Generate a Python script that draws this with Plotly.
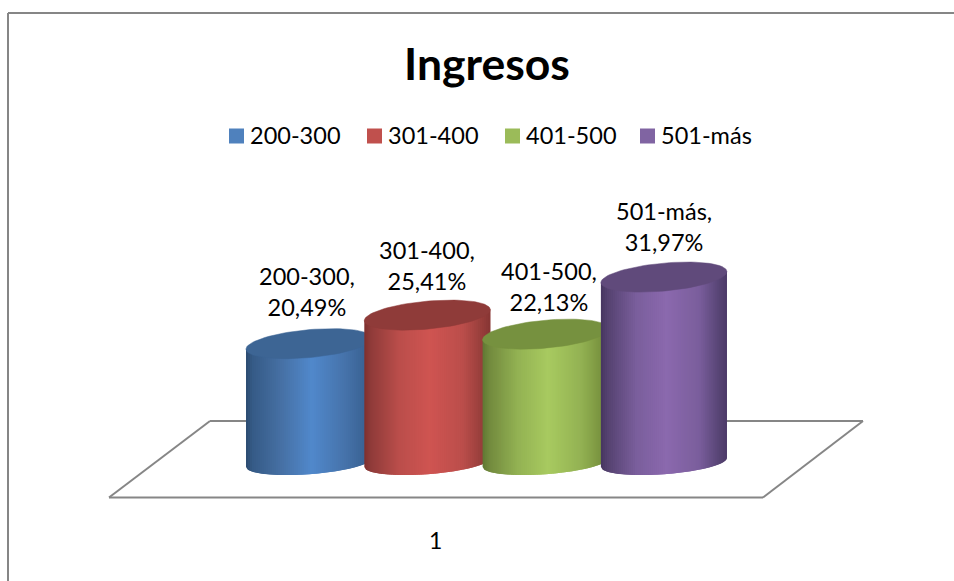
import numpy as np
import plotly.graph_objects as go

# Income brackets and their share of respondents (%)
categories = ["200-300", "301-400", "401-500", "501-más"]
shares = [20.49, 25.41, 22.13, 31.97]
axis_tick = "1"
chart_title = "Ingresos"

# Shading across each cylinder, from its left edge to its right edge
gradient_pos = [0.0, 0.05, 0.28, 0.52, 0.78, 0.94, 1.0]
body_shades = [
    ["#2b4a6f", "#355a86", "#4670a4", "#5088cb", "#4673ab", "#3a6394", "#34577f"],
    ["#7d2f2d", "#8f3b39", "#bb4e4b", "#cf5451", "#bb4e4b", "#953d3a", "#863533"],
    ["#5f7733", "#71893d", "#93b253", "#a8ca60", "#93b253", "#79933f", "#6a8239"],
    ["#463560", "#54416f", "#7a5e9c", "#8b69ae", "#7a5e9c", "#574474", "#4d3a68"],
]
cap_shades = ["#3d6594", "#8f3b39", "#76913f", "#604a7b"]
swatch_shades = ["#4f81bd", "#c0504d", "#9bbb59", "#8064a2"]

# Canvas geometry: one category step and one percent in pixels
W, H = 954, 581
X0, STEP = 309.0, 118.3
Y0, UNIT = 462.5, 5.8


def dx(px):
    return (px - X0) / STEP


def dy(py):
    return (Y0 - py) / UNIT


RADIUS = 63 / STEP
CAP_B, CAP_TILT = 14.0 / UNIT, 5.5 / UNIT
BASE_B, BASE_TILT = 11.7 / UNIT, 4.5 / UNIT
N_SLICES = 63


def hex_rgb(c):
    return np.array([int(c[i:i + 2], 16) for i in (1, 3, 5)], float)


def shade_at(stops, t):
    rgb = [np.interp(t, gradient_pos, [hex_rgb(s)[k] for s in stops]) for k in range(3)]
    return "rgb(%d,%d,%d)" % tuple(int(round(v)) for v in rgb)


fig = go.Figure()

for i, (name, value) in enumerate(zip(categories, shares)):
    # Side of the cylinder as strips painted left to right; each strip runs under
    # the next one so no seams show between them
    edges = np.linspace(-1, 1, N_SLICES + 1)
    for j in range(N_SLICES):
        u = np.linspace(edges[j], edges[min(j + 2, N_SLICES)], 6)
        lower = BASE_TILT * u - BASE_B * np.sqrt(np.clip(1 - u**2, 0, 1))
        upper = value + CAP_TILT * u
        xs = np.concatenate([i + RADIUS * u, i + RADIUS * u[::-1]])
        ys = np.concatenate([lower, upper[::-1]])
        colour = shade_at(body_shades[i], (j + 0.5) / N_SLICES)
        fig.add_trace(go.Scatter(
            x=xs, y=ys, mode="lines", fill="toself", fillcolor=colour,
            line=dict(width=0), hoverinfo="skip", showlegend=False,
        ))
    # Top face
    t = np.linspace(0, 2 * np.pi, 90)
    fig.add_trace(go.Scatter(
        x=i + RADIUS * np.cos(t),
        y=value + CAP_B * np.sin(t) + CAP_TILT * np.cos(t),
        mode="lines", fill="toself", fillcolor=cap_shades[i],
        line=dict(color=cap_shades[i], width=0.5),
        name=name, hovertemplate=f"{name}: {value:.2f}%<extra></extra>", showlegend=False,
    ))

# Key above the plot: colour square followed by the bracket name
key_swatch_px = [236.5, 374.5, 512.5, 647.5]
key_y = dy(136)
for name, px, colour in zip(categories, key_swatch_px, swatch_shades):
    fig.add_trace(go.Scatter(
        x=[dx(px)], y=[key_y], mode="markers",
        marker=dict(symbol="square", size=15, color=colour, line=dict(width=0)),
        hoverinfo="skip", showlegend=False,
    ))

FONT = "Lato"
annotations = [
    dict(x=dx(px + 11), y=key_y, text=name, showarrow=False, xanchor="left", yanchor="middle",
         yshift=1, font=dict(family=FONT, size=23.5, color="black"))
    for name, px in zip(categories, key_swatch_px)
]

# Value labels sit just above each top face, with small per-label offsets
label_gap = 34 / UNIT
label_dx = [-2, 0, 3, 0]
label_dy = [0, -3, -5, -2]
for i, (name, value) in enumerate(zip(categories, shares)):
    text = f"{name},<br>{value:.2f}%".replace(".", ",")
    annotations.append(dict(
        x=i, y=value + label_gap, text=text, showarrow=False, yanchor="bottom", xanchor="center",
        xshift=label_dx[i], yshift=-13 + label_dy[i],
        font=dict(family=FONT, size=23.5, color="black"),
    ))

annotations.append(dict(
    x=dx(435), y=dy(540), text=axis_tick, showarrow=False,
    font=dict(family=FONT, size=23, color="black"),
))

GRID = "#868686"
floor = [(109, 497.5), (763, 497.5), (863, 421), (210, 421), (109, 497.5)]
shapes = [
    dict(type="line", layer="below", x0=dx(a[0]), y0=dy(a[1]), x1=dx(b[0]), y1=dy(b[1]),
         line=dict(color=GRID, width=2))
    for a, b in zip(floor[:-1], floor[1:])
]
# Chart frame along the top and left edges
shapes += [
    dict(type="line", layer="below", x0=dx(8), y0=dy(13), x1=dx(W), y1=dy(13), line=dict(color=GRID, width=2)),
    dict(type="line", layer="below", x0=dx(8), y0=dy(13), x1=dx(8), y1=dy(H), line=dict(color=GRID, width=2)),
]

fig.update_layout(
    width=W, height=H, margin=dict(l=0, r=0, t=0, b=0),
    paper_bgcolor="white", plot_bgcolor="white",
    showlegend=False,
    title=dict(text=f"<b>{chart_title}</b>", x=487 / W, xanchor="center", y=1 - 64 / H, yanchor="middle",
               font=dict(family=FONT, size=44.5, color="black")),
    xaxis=dict(range=[dx(0), dx(W)], visible=False, fixedrange=True),
    yaxis=dict(range=[dy(H), dy(0)], visible=False, fixedrange=True),
    annotations=annotations, shapes=shapes,
)

fig.write_html("out.html")
